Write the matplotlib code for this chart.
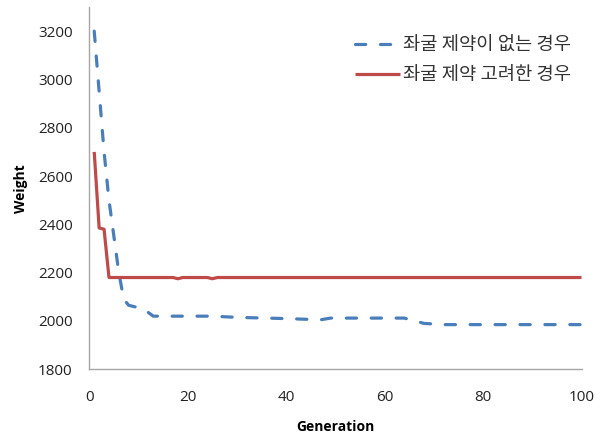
import matplotlib.pyplot as plt

# Convergence history: weight of the best design per generation
gen_free = [1, 2, 3, 4, 5, 6, 7, 8, 10, 11, 13, 25, 30, 40, 47, 49, 64, 68, 72, 100]
weight_free = [3200, 2950, 2700, 2500, 2350, 2200, 2090, 2065, 2055, 2050, 2020,
               2020, 2015, 2010, 2005, 2012, 2012, 1990, 1985, 1985]

gen_buckling = [1, 2, 3, 4, 17, 18, 19, 24, 25, 26, 100]
weight_buckling = [2700, 2385, 2380, 2180, 2180, 2175, 2180, 2180, 2175, 2180, 2180]

label_free = "좌굴 제약이 없는 경우"
label_buckling = "좌굴 제약 고려한 경우"

x_ticks = [0, 20, 40, 60, 80, 100]
y_ticks = [1800, 2000, 2200, 2400, 2600, 2800, 3000, 3200]

BLUE = "#4A7EBB"
RED = "#BE4B48"
AXIS = "#A6A6A6"

plt.rcParams["font.family"] = ["Open Sans", "Noto Sans CJK KR", "DejaVu Sans"]

fig = plt.figure(figsize=(6.02, 4.42), dpi=100)
ax = fig.add_axes([89.3 / 602, 1 - 369.3 / 442, (581.5 - 89.3) / 602, (369.3 - 7) / 442])

ax.plot(gen_free, weight_free, color=BLUE, lw=2.3, ls=(0, (3.2, 4.6)),
        dash_capstyle="round", label=label_free, zorder=3)
ax.plot(gen_buckling, weight_buckling, color=RED, lw=2.3,
        solid_capstyle="butt", label=label_buckling, zorder=4)

ax.set_xlim(0, 100)
ax.set_ylim(1800, 3300)
ax.set_xticks(x_ticks)
ax.set_yticks(y_ticks)
ax.tick_params(length=0, labelsize=11, colors="#222222")
ax.tick_params(axis="y", pad=12)
ax.tick_params(axis="x", pad=15)

for side in ("top", "right"):
    ax.spines[side].set_visible(False)
for side in ("left", "bottom"):
    ax.spines[side].set_color(AXIS)
    ax.spines[side].set_linewidth(1.0)

ax.set_xlabel("Generation", fontsize=10, fontweight="bold", labelpad=11)
ax.set_ylabel("Weight", fontsize=10, fontweight="bold", labelpad=7)

leg = ax.legend(loc="upper left", bbox_to_anchor=(355 / 602, 1 - 35 / 442),
                bbox_transform=fig.transFigure, frameon=False,
                prop={"family": ["Noto Sans CJK KR", "DejaVu Sans"], "size": 13.5},
                handlelength=2.4, handletextpad=0.15, labelspacing=0.45,
                borderpad=0, borderaxespad=0)
for text in leg.get_texts():
    text.set_color("#333333")

fig.savefig("out.png", dpi=100)
